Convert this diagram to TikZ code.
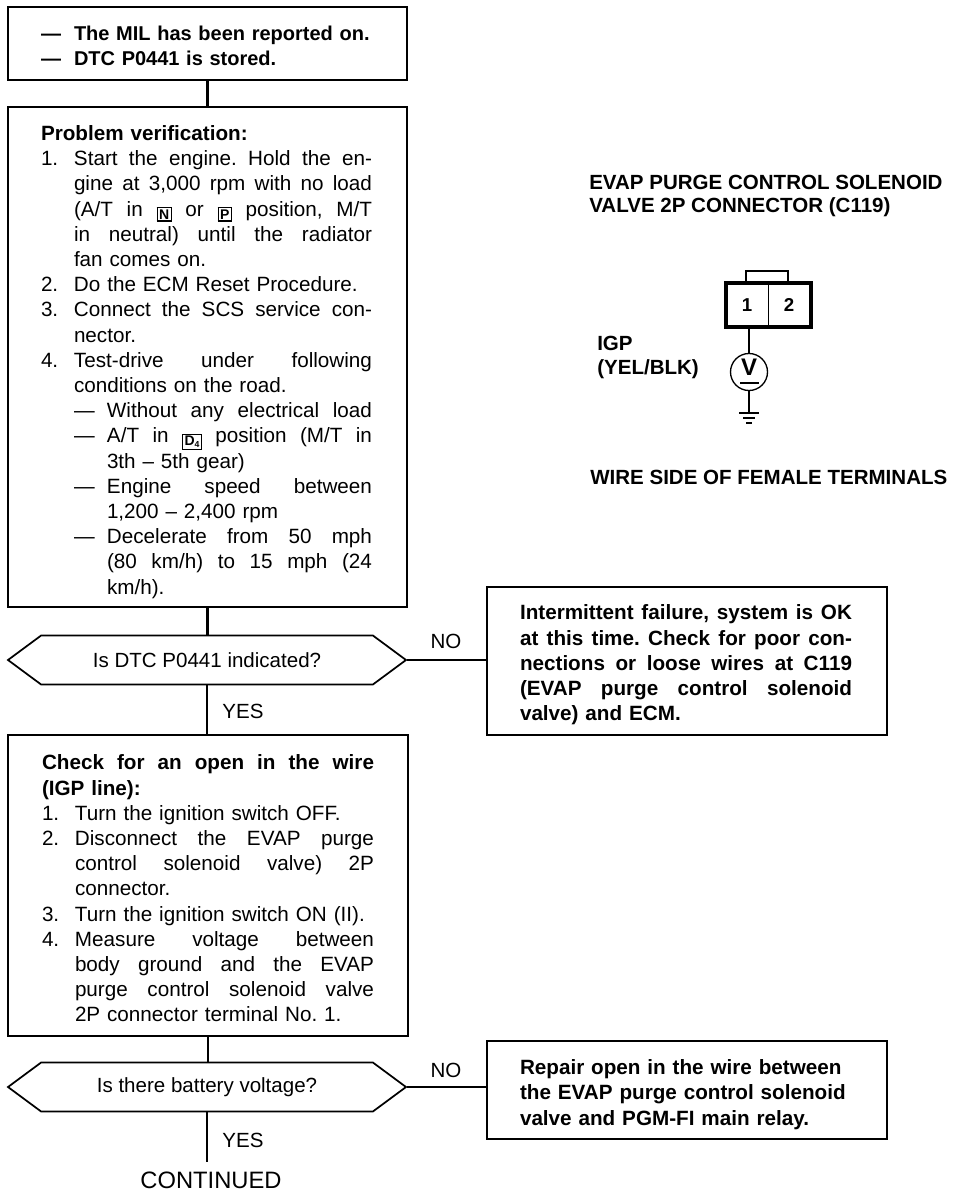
\documentclass[tikz,border=0pt]{standalone}
\usepackage{fontspec}
\setmainfont{Liberation Sans}
\usetikzlibrary{shapes.symbols}
\newdimen\pxu \pxu=0.75pt
\newdimen\rowW
\hbadness=10000
\hfuzz=5pt
% justified row: #1 = indent in px, #2 = label, #3 = text
\newcommand\rs[3]{\hbox to\rowW{\hskip #1\pxu\relax\llap{\hbox to 33\pxu{#2\hss}}#3}}
% left-aligned row
\newcommand\rl[3]{\hbox{\hskip #1\pxu\relax\llap{\hbox to 33\pxu{#2\hss}}#3}}
\newcommand\kbox[1]{\raisebox{-2.2pt}{\setlength\fboxsep{1pt}\setlength\fboxrule{0.9pt}\fbox{\bfseries\fontsize{10.5}{11}\selectfont #1}}}
\newcommand\rowsetup{\frenchspacing\baselineskip=25.2\pxu\lineskiplimit=-100pt\spaceskip=.3333em plus 1em minus .05em\relax\xspaceskip=\spaceskip}
% #1 = block width, #2 = row width, #3 = space above, #4 = rows
\newcommand\rows[4]{\vbox{\hsize=#1\pxu\rowW=#2\pxu\rowsetup\hrule height 0pt width #1\pxu\vskip #3\pxu\relax #4}}
\tikzset{
  flowbox/.style={draw,line width=1.5pt,rectangle,anchor=north west,inner xsep=0pt,inner ysep=0pt},
  body/.style={font=\fontsize{15.5}{18.9}\selectfont},
  bodyb/.style={font=\fontsize{15}{18.9}\selectfont},
  hexa/.style={draw,line width=1.3pt,signal,signal to=west and east,signal pointer angle=73,inner sep=0pt,minimum width=398\pxu,minimum height=49\pxu},
  conn/.style={line width=1.6pt},
  lab/.style={font=\fontsize{15.4}{18}\selectfont,inner sep=0pt},
  head/.style={font=\fontsize{15.4}{18}\selectfont\bfseries,inner sep=0pt,anchor=west},
  pin/.style={inner sep=0pt,font=\fontsize{14}{15}\selectfont\bfseries,minimum width=42\pxu,minimum height=44\pxu},
  thin wire/.style={line width=0.9pt}
}
\begin{document}
\begin{tikzpicture}[x=0.75pt,y=-0.75pt]
\useasboundingbox (0,0) rectangle (960,1194);

\node[flowbox,bodyb,minimum width=399\pxu,minimum height=73\pxu] (b1) at (7,6) {\rows{333}{331}{4}{\bfseries
\rl{33}{---}{The MIL has been reported on.}
\rl{33}{---}{DTC P0441 is stored.}}};

\node[flowbox,body,minimum width=399\pxu,minimum height=500\pxu] (b2) at (7,106) {\rows{333}{331}{10}{%
\rl{0}{}{\bfseries Problem verification:}
\rs{33}{1.}{Start the engine. Hold the en-}
\rs{33}{}{gine at 3,000 rpm with no load}
\rs{33}{}{(A/T in \kbox{N} or \kbox{P} position, M/T}
\rs{33}{}{in neutral) until the radiator}
\rl{33}{}{fan comes on.}
\rl{33}{2.}{Do the ECM Reset Procedure.}
\rs{33}{3.}{Connect the SCS service con-}
\rl{33}{}{nector.}
\rs{33}{4.}{Test-drive under following}
\rl{33}{}{conditions on the road.}
\rs{66}{---}{Without any electrical load}
\rs{66}{---}{A/T in \kbox{D\raisebox{-1pt}{\fontsize{6.5}{7}\selectfont 4}} position (M/T in}
\rl{66}{}{3th -- 5th gear)}
\rs{66}{---}{Engine speed between}
\rl{66}{}{1,200 -- 2,400 rpm}
\rs{66}{---}{Decelerate from 50 mph}
\rs{66}{}{(80 km/h) to 15 mph (24}
\rl{66}{}{km/h).}}};

\node[hexa,lab] (h1) at (207,660) {\raisebox{-1pt}{Is DTC P0441 indicated?}};

\node[flowbox,body,minimum width=400\pxu,minimum height=148\pxu] (b3) at (486,586) {\rows{334}{332}{8}{\bfseries
\rs{0}{}{Intermittent failure, system is OK}
\rs{0}{}{at this time. Check for poor con-}
\rs{0}{}{nections or loose wires at C119}
\rs{0}{}{(EVAP purge control solenoid}
\rl{0}{}{valve) and ECM.}}};

\node[flowbox,body,minimum width=400\pxu,minimum height=301\pxu] (b4) at (7,734) {\rows{332}{332}{6}{%
\rs{0}{}{\bfseries Check for an open in the wire}
\rl{0}{}{\bfseries (IGP line):}
\rl{33}{1.}{Turn the ignition switch OFF.}
\rs{33}{2.}{Disconnect the EVAP purge}
\rs{33}{}{control solenoid valve) 2P}
\rl{33}{}{connector.}
\rl{33}{3.}{Turn the ignition switch ON (II).}
\rs{33}{4.}{Measure voltage between}
\rs{33}{}{body ground and the EVAP}
\rs{33}{}{purge control solenoid valve}
\rl{33}{}{2P connector terminal No. 1.}}};

\node[hexa,lab] (h2) at (207,1087) {\raisebox{-1.5pt}{Is there battery voltage?}};

\node[flowbox,body,minimum width=400\pxu,minimum height=98\pxu] (b5) at (486,1040) {\rows{334}{332}{9}{\bfseries
\rl{0}{}{Repair open in the wire between}
\rl{0}{}{the EVAP purge control solenoid}
\rl{0}{}{valve and PGM-FI main relay.}}};

\node[inner sep=0pt,font=\fontsize{17.8}{20}\selectfont] (cont) at (211,1180) {CONTINUED};
\coordinate (contTop) at (207,1162);

\draw[conn] (b1.south) -- (b1.south |- b2.north);
\draw[conn] (b2.south) -- (b2.south |- h1.north);
\draw[conn] (h1.south) -- (h1.south |- b4.north);
\draw[conn] (h1.east) -- (h1.east -| b3.west);
\node[lab] (yes1) at (243,711) {YES};
\node[lab] (no1) at (446,641) {NO};
\draw[conn] (b4.south) -- (b4.south |- h2.north);
\draw[conn] (h2.south) -- (h2.south |- contTop);
\node[lab] (yes2) at (243,1140) {YES};
\draw[conn] (h2.east) -- (h2.east -| b5.west);
\node[lab] (no2) at (446,1070) {NO};

% Connector illustration
\node[head] (t1) at (589,182) {EVAP PURGE CONTROL SOLENOID};
\node[head] (t2) at (589,207) {VALVE 2P CONNECTOR (C119)};
\node[head] (t3) at (590,477) {WIRE SIDE OF FEMALE TERMINALS};
\node[head] (t4) at (597,343) {IGP};
\node[head] (t5) at (597,369) {(YEL/BLK)};

\draw[line width=2.2pt] (746,283) -- (746,271) -- (788,271) -- (788,283);
\node[draw,line width=2.6pt,minimum width=85\pxu,minimum height=44\pxu,inner sep=0pt] (hs) at (768.5,305) {};
\node[pin] (p1) at (747,305) {1};
\node[pin] (p2) at (789,305) {2};
\draw[line width=1pt] (p1.north east) -- (p1.south east);

\node[draw,circle,line width=1pt,minimum size=37\pxu,inner sep=0pt] (vm) at (749,372) {};
\node[inner sep=0pt,font=\fontsize{18}{20}\selectfont\bfseries] (vl) at (749,367) {V};
\draw[line width=1pt] (740,383) -- (759,383);
\coordinate (gnd) at (749,413);
\draw[thin wire] (vm.north |- hs.south) -- (vm.north);
\draw[thin wire] (vm.south) -- (gnd);
\draw[line width=1pt] (739,413) -- (759,413) (743,418) -- (755,418) (746,423) -- (752,423);
\end{tikzpicture}
\end{document}
